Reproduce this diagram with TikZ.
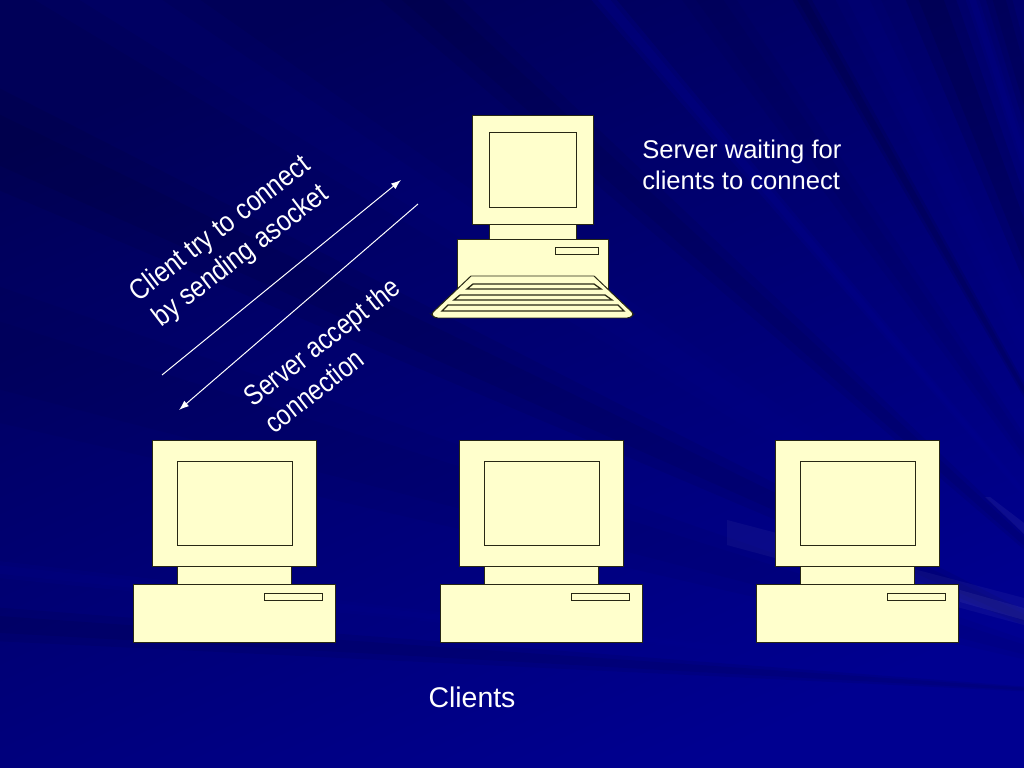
\documentclass[tikz,border=0pt]{standalone}
\usepackage{fontspec}
\setmainfont{Liberation Sans}
\usetikzlibrary{calc,arrows.meta}
\definecolor{slidedark}{RGB}{0,0,88}
\definecolor{slideblue}{RGB}{0,0,144}
\definecolor{pccream}{RGB}{255,255,204}
\definecolor{pcline}{RGB}{40,40,20}
\tikzset{
	pcpart/.style={draw=pcline, fill=pccream, line width=0.7pt},
	slidetext/.style={text=white, font=\fontsize{18}{21.4}\selectfont, align=center, inner sep=0pt},
	linkline/.style={draw=white, line width=0.7pt},
}
\def\clientpc(#1){
	\begin{scope}[shift={(#1)}]
		\draw[pcpart] (0, 126) rectangle (164, 0);
		\draw[pcpart] (25, 21) rectangle (140, 105);
		\draw[pcpart] (25, 126) rectangle (139, 144);
		\draw[pcpart] (-19, 144) rectangle (183, 202);
		\draw[pcpart] (112, 153) rectangle (170, 160);
	\end{scope}
}
% soft ray out of the corner below the slide: angle, half width, colour, opacity
\def\slideray(#1:#2:#3:#4){
	\fill[#3, opacity=#4] (1200, 700) -- ($(1200, 700)+({#1-#2}:1800)$) -- ($(1200, 700)+({#1+#2}:1800)$) -- cycle;
	\fill[#3, opacity=#4] (1200, 700) -- ($(1200, 700)+({#1-#2*0.5}:1800)$) -- ($(1200, 700)+({#1+#2*0.5}:1800)$) -- cycle;
}

\begin{document}
\begin{tikzpicture}[x=0.703125pt, y=-0.703125pt]
		\useasboundingbox (0, 0) rectangle (1024, 768);
		%%%%% BACKGROUND %%%%%
		\shade[shading=axis, top color=slidedark, middle color=slideblue, bottom color=slideblue, shading angle=25] (0, 0) rectangle (1024, 768);
		\begin{scope}
			\clip (0, 0) rectangle (1024, 768);
			\slideray(183.6:0.8:black:0.06);
			\slideray(186.2:0.4:slideblue:0.15);
			\slideray(196:3:black:0.03);
			\slideray(205:2:black:0.06);
			\slideray(213:2:slideblue:0.1);
			\slideray(222:1.5:black:0.06);
			\slideray(229.6:0.6:slideblue:0.25);
			\slideray(235:1.5:black:0.04);
			\slideray(240.4:0.6:black:0.09);
			\slideray(244:1.5:slideblue:0.12);
			\slideray(249:1.8:black:0.09);
			\slideray(252:0.5:slideblue:0.2);
			\slideray(254:1:black:0.08);
			\fill[white, opacity=0.04] (727, 520) -- (1024, 598) -- (1024, 625) -- (727, 545) -- cycle;
			\fill[white, opacity=0.05] (960, 590) -- (1024, 608) -- (1024, 620) -- (960, 602) -- cycle;
			\fill[white, opacity=0.05] (985, 497) -- (990, 497) -- (1024, 523) -- (1024, 534) -- cycle;
		\end{scope}
		
		%%%%% SERVER %%%%%
		\draw[pcpart] (472, 224) rectangle (593, 116);
		\draw[pcpart] (489, 133) rectangle (576, 207);
		\draw[pcpart] (489, 224) rectangle (576, 239);
		\draw[pcpart] (457, 239) rectangle (608, 292);
		\draw[pcpart] (555, 247) rectangle (598, 254);
		\draw[pcpart] (471, 276) -- (594, 276) [rounded corners=2pt] -- (634, 314) -- (630, 318) -- (435, 318) -- (431, 314) [sharp corners] -- cycle;
		\draw[pcpart, line width=0.9pt] (467, 289) -- (473, 284) -- (594, 284) -- (601, 289) -- cycle;
		\draw[pcpart, line width=0.9pt] (454, 300) -- (460, 295) -- (605, 295) -- (612, 300) -- cycle;
		\draw[pcpart, line width=0.9pt] (442, 311) -- (448, 305) -- (618, 305) -- (624, 311) -- cycle;
		
		%%%%% CLIENTS %%%%%
		\clientpc(152, 440)
		\clientpc(459, 440)
		\clientpc(775, 440)
		
		%%%%% LINKS %%%%%
		\coordinate (clientend) at (162, 375);
		\coordinate (serverend) at (401, 180);
		\coordinate (replystart) at (418, 204);
		\coordinate (replyend) at (179, 410);
		\draw[linkline, -{Latex[length=7pt, width=5pt]}] (clientend) -- (serverend);
		\draw[linkline, -{Latex[length=7pt, width=5pt]}] (replystart) -- (replyend);
		
		\node[slidetext, transform shape, rotate=37.5, xscale=0.97, yscale=1.12] (trytext) at (231, 243) {Client try to connect\\by sending asocket};
		\node[slidetext, transform shape, rotate=38, xscale=0.94, yscale=1.12, align=left] (accepttext) at (332, 355) {Server accept the\\connection};
		\node[slidetext, align=left, anchor=west] (waittext) at (642, 165) {Server waiting for\\clients to connect};
		\node[slidetext, font=\fontsize{20}{24}\selectfont] (clientstext) at (472, 697) {Clients};
	\end{tikzpicture}
\end{document}
